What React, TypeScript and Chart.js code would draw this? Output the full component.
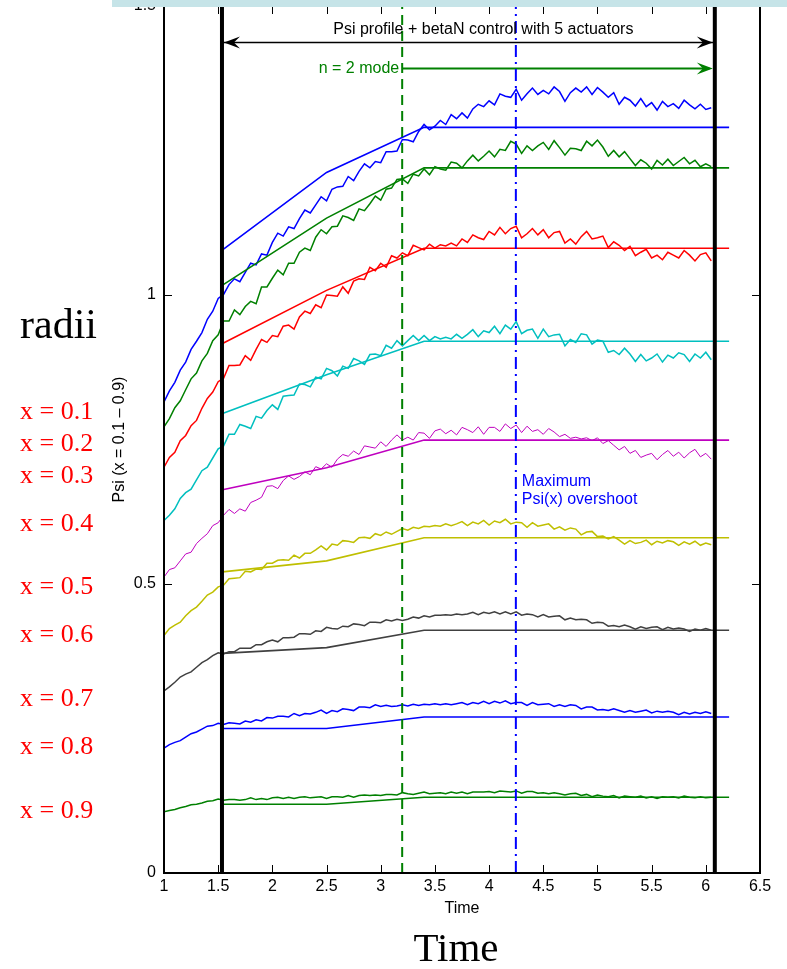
import React, { useEffect, useRef } from 'react';
import { Chart, registerables } from 'chart.js';

Chart.register(...registerables);

// ---------- data ----------
const TIME = [1.00,1.05,1.10,1.15,1.20,1.25,1.30,1.35,1.40,1.45,1.50,1.55,1.60,1.65,1.70,1.75,1.80,1.85,1.90,1.95,
  2.00,2.05,2.10,2.15,2.20,2.25,2.30,2.35,2.40,2.45,2.50,2.55,2.60,2.65,2.70,2.75,2.80,2.85,2.90,2.95,
  3.00,3.05,3.10,3.15,3.20,3.25,3.30,3.35,3.40,3.45,3.50,3.55,3.60,3.65,3.70,3.75,3.80,3.85,3.90,3.95,
  4.00,4.05,4.10,4.15,4.20,4.25,4.30,4.35,4.40,4.45,4.50,4.55,4.60,4.65,4.70,4.75,4.80,4.85,4.90,4.95,
  5.00,5.05,5.10,5.15,5.20,5.25,5.30,5.35,5.40,5.45,5.50,5.55,5.60,5.65,5.70,5.75,5.80,5.85,5.90,5.95,
  6.00,6.05];

const PSI_01 = [0.815,0.834,0.849,0.870,0.884,0.906,0.920,0.935,0.958,0.972,
  0.994,1.001,1.018,1.028,1.023,1.039,1.055,1.052,1.071,1.069,
  1.091,1.107,1.102,1.118,1.115,1.132,1.147,1.142,1.156,1.170,
  1.163,1.183,1.187,1.188,1.205,1.198,1.214,1.227,1.220,1.231,
  1.229,1.248,1.248,1.249,1.269,1.268,1.265,1.283,1.295,1.286,
  1.292,1.302,1.295,1.312,1.305,1.315,1.306,1.322,1.330,1.326,
  1.336,1.329,1.348,1.344,1.342,1.356,1.337,1.348,1.358,1.347,
  1.354,1.348,1.360,1.352,1.335,1.350,1.358,1.351,1.360,1.347,
  1.359,1.351,1.342,1.350,1.330,1.342,1.337,1.327,1.340,1.326,
  1.333,1.320,1.335,1.326,1.331,1.323,1.337,1.329,1.322,1.330,
  1.321,1.324];

const PSI_02 = [0.772,0.786,0.805,0.817,0.836,0.855,0.865,0.886,0.899,0.921,
  0.931,0.955,0.955,0.974,0.966,0.980,0.989,0.985,1.014,1.014,
  1.029,1.043,1.035,1.055,1.055,1.074,1.081,1.077,1.100,1.113,
  1.106,1.118,1.119,1.137,1.134,1.129,1.149,1.146,1.158,1.171,
  1.164,1.183,1.185,1.200,1.201,1.193,1.209,1.206,1.218,1.208,
  1.222,1.218,1.216,1.230,1.228,1.220,1.232,1.242,1.232,1.240,
  1.249,1.239,1.252,1.250,1.266,1.261,1.245,1.258,1.250,1.258,
  1.264,1.252,1.267,1.255,1.242,1.254,1.253,1.250,1.266,1.258,
  1.268,1.256,1.240,1.250,1.239,1.248,1.236,1.224,1.234,1.228,
  1.218,1.233,1.225,1.235,1.224,1.231,1.238,1.227,1.233,1.222,
  1.227,1.222];

const PSI_03 = [0.702,0.719,0.728,0.748,0.757,0.774,0.783,0.804,0.821,0.832,
  0.850,0.856,0.878,0.878,0.879,0.895,0.887,0.906,0.923,0.918,
  0.930,0.928,0.946,0.948,0.941,0.962,0.972,0.968,0.983,0.978,
  1.000,0.999,0.998,1.014,1.003,1.024,1.028,1.027,1.048,1.042,
  1.055,1.048,1.068,1.064,1.073,1.068,1.086,1.082,1.078,1.088,
  1.081,1.087,1.085,1.090,1.085,1.097,1.091,1.104,1.099,1.096,
  1.110,1.104,1.117,1.106,1.115,1.119,1.099,1.106,1.115,1.104,
  1.113,1.099,1.108,1.110,1.090,1.097,1.088,1.101,1.110,1.097,
  1.099,1.102,1.082,1.092,1.086,1.077,1.084,1.068,1.074,1.079,
  1.064,1.069,1.061,1.074,1.069,1.064,1.077,1.069,1.059,1.070,
  1.073,1.059];

const PSI_04 = [0.610,0.619,0.630,0.648,0.658,0.664,0.680,0.696,0.702,0.718,
  0.734,0.739,0.759,0.759,0.776,0.773,0.769,0.790,0.787,0.800,
  0.810,0.802,0.825,0.826,0.827,0.846,0.845,0.841,0.858,0.855,
  0.873,0.869,0.860,0.877,0.873,0.890,0.886,0.880,0.897,0.898,
  0.895,0.913,0.908,0.921,0.912,0.921,0.930,0.921,0.930,0.921,
  0.928,0.924,0.927,0.924,0.932,0.925,0.932,0.940,0.928,0.938,
  0.935,0.946,0.933,0.948,0.941,0.954,0.933,0.939,0.941,0.925,
  0.941,0.928,0.931,0.932,0.912,0.923,0.918,0.933,0.931,0.915,
  0.922,0.920,0.901,0.904,0.897,0.908,0.898,0.885,0.897,0.886,
  0.891,0.898,0.884,0.896,0.891,0.900,0.897,0.885,0.898,0.891,
  0.901,0.888];

const PSI_05 = [0.512,0.525,0.528,0.540,0.552,0.555,0.570,0.579,0.587,0.601,
  0.606,0.619,0.629,0.622,0.630,0.626,0.641,0.645,0.650,0.669,
  0.670,0.665,0.679,0.687,0.681,0.686,0.694,0.689,0.703,0.699,
  0.708,0.702,0.716,0.724,0.721,0.730,0.724,0.739,0.737,0.735,
  0.746,0.738,0.749,0.758,0.749,0.754,0.749,0.762,0.761,0.752,
  0.765,0.768,0.760,0.766,0.758,0.771,0.767,0.762,0.772,0.759,
  0.771,0.771,0.764,0.777,0.769,0.775,0.762,0.773,0.764,0.767,
  0.759,0.769,0.763,0.755,0.759,0.752,0.754,0.751,0.753,0.748,
  0.753,0.743,0.748,0.740,0.732,0.738,0.726,0.731,0.719,0.723,
  0.726,0.715,0.724,0.731,0.721,0.728,0.718,0.727,0.733,0.720,
  0.726,0.716];

const PSI_06 = [0.411,0.423,0.429,0.434,0.445,0.454,0.460,0.470,0.481,0.486,
  0.495,0.498,0.509,0.510,0.511,0.522,0.521,0.526,0.525,0.536,
  0.536,0.541,0.542,0.541,0.550,0.545,0.553,0.553,0.559,0.566,
  0.559,0.569,0.567,0.575,0.574,0.572,0.580,0.581,0.579,0.587,
  0.584,0.590,0.586,0.591,0.596,0.593,0.598,0.596,0.600,0.599,
  0.601,0.600,0.604,0.601,0.604,0.608,0.601,0.607,0.604,0.610,
  0.602,0.609,0.606,0.612,0.604,0.607,0.606,0.598,0.606,0.600,
  0.602,0.604,0.595,0.599,0.593,0.597,0.595,0.585,0.590,0.591,
  0.582,0.583,0.578,0.582,0.576,0.569,0.575,0.570,0.572,0.576,
  0.568,0.574,0.571,0.575,0.573,0.567,0.573,0.569,0.574,0.567,
  0.571,0.568];

const PSI_07 = [0.315,0.322,0.330,0.339,0.344,0.348,0.356,0.364,0.369,0.376,
  0.381,0.379,0.383,0.383,0.389,0.389,0.389,0.395,0.395,0.400,
  0.403,0.400,0.407,0.407,0.408,0.414,0.414,0.413,0.419,0.418,
  0.425,0.423,0.422,0.427,0.426,0.431,0.430,0.428,0.434,0.434,
  0.433,0.438,0.436,0.439,0.437,0.439,0.443,0.441,0.445,0.443,
  0.446,0.446,0.447,0.446,0.448,0.447,0.448,0.451,0.447,0.451,
  0.449,0.452,0.448,0.452,0.448,0.452,0.446,0.448,0.447,0.443,
  0.447,0.443,0.444,0.445,0.438,0.441,0.438,0.439,0.438,0.432,
  0.434,0.433,0.427,0.428,0.426,0.429,0.426,0.422,0.426,0.423,
  0.425,0.426,0.421,0.425,0.422,0.424,0.422,0.418,0.422,0.420,
  0.423,0.420];

const PSI_08 = [0.216,0.222,0.226,0.229,0.235,0.241,0.244,0.249,0.254,0.255,
  0.259,0.257,0.260,0.259,0.258,0.263,0.261,0.265,0.263,0.269,
  0.268,0.271,0.271,0.270,0.276,0.272,0.276,0.275,0.278,0.282,
  0.276,0.281,0.279,0.284,0.283,0.281,0.287,0.287,0.286,0.291,
  0.288,0.290,0.288,0.289,0.291,0.289,0.292,0.290,0.292,0.291,
  0.293,0.291,0.293,0.291,0.293,0.295,0.291,0.295,0.293,0.297,
  0.293,0.297,0.294,0.298,0.293,0.295,0.295,0.290,0.295,0.291,
  0.292,0.293,0.288,0.291,0.288,0.291,0.290,0.284,0.287,0.287,
  0.282,0.283,0.281,0.284,0.281,0.278,0.281,0.278,0.280,0.282,
  0.277,0.280,0.278,0.280,0.278,0.274,0.278,0.275,0.278,0.276,
  0.279,0.276];

const PSI_09 = [0.106,0.108,0.110,0.113,0.115,0.118,0.119,0.121,0.124,0.125,
  0.128,0.126,0.127,0.127,0.126,0.127,0.130,0.127,0.129,0.127,
  0.130,0.131,0.129,0.131,0.129,0.131,0.132,0.130,0.131,0.132,
  0.129,0.132,0.132,0.131,0.134,0.131,0.134,0.135,0.134,0.135,
  0.134,0.136,0.136,0.135,0.139,0.137,0.136,0.138,0.140,0.137,
  0.138,0.139,0.137,0.140,0.138,0.140,0.137,0.140,0.140,0.140,
  0.141,0.139,0.142,0.141,0.140,0.142,0.138,0.141,0.141,0.138,
  0.139,0.137,0.139,0.137,0.135,0.137,0.138,0.134,0.136,0.132,
  0.135,0.133,0.132,0.134,0.130,0.133,0.132,0.131,0.133,0.130,
  0.132,0.129,0.132,0.131,0.132,0.130,0.133,0.131,0.130,0.132,
  0.130,0.131];

// target (reference) profiles
const REF_TIME = [1.54, 2.5, 3.4, 6.215];
const REF_01 = [1.078, 1.212, 1.290, 1.290];
const REF_02 = [1.017, 1.133, 1.220, 1.220];
const REF_03 = [0.916, 1.008, 1.081, 1.081];
const REF_04 = [0.795, 0.862, 0.920, 0.920];
const REF_05 = [0.663, 0.701, 0.749, 0.749];
const REF_06 = [0.521, 0.540, 0.580, 0.580];
const REF_07 = [0.380, 0.390, 0.420, 0.420];
const REF_08 = [0.250, 0.250, 0.270, 0.270];
const REF_09 = [0.119, 0.119, 0.131, 0.131];

const MEASURED = [PSI_01, PSI_02, PSI_03, PSI_04, PSI_05, PSI_06, PSI_07, PSI_08, PSI_09];
const TARGETS = [REF_01, REF_02, REF_03, REF_04, REF_05, REF_06, REF_07, REF_08, REF_09];
const RADII_LABELS = ['x = 0.1', 'x = 0.2', 'x = 0.3', 'x = 0.4', 'x = 0.5', 'x = 0.6', 'x = 0.7', 'x = 0.8', 'x = 0.9'];

// event markers (time) and annotation levels (Psi)
const CONTROL_START = 1.535;
const CONTROL_END = 6.083;
const MODE_ONSET = 3.198;
const MAX_OVERSHOOT = 4.247;
const CONTROL_ARROW_Y = 1.437;
const MODE_ARROW_Y = 1.392;

// ---------- styles ----------
const COLORS = ['#0000ff', '#008000', '#ff0000', '#00bfbf', '#bf00bf', '#bfbf00', '#404040', '#0000ff', '#008000'];
const SANS = '"Liberation Sans", Arial, Helvetica, sans-serif';
const SERIF = '"Liberation Serif", "Times New Roman", serif';
const LABEL_TOPS = [398, 430, 462, 510, 573, 621, 685, 733, 797];
const TICK_LEN = 8;

function arrowHead(ctx: CanvasRenderingContext2D, tipX: number, tipY: number, dir: number, color: string) {
  const len = 16, half = 6;
  ctx.fillStyle = color;
  ctx.beginPath();
  ctx.moveTo(tipX, tipY);
  ctx.lineTo(tipX - dir * len, tipY - half);
  ctx.lineTo(tipX - dir * len * 0.62, tipY);
  ctx.lineTo(tipX - dir * len, tipY + half);
  ctx.closePath();
  ctx.fill();
}

const overlayPlugin = {
  id: 'overlay',
  afterDatasetsDraw(chart: any) {
    const { ctx, chartArea: a, scales } = chart;
    const xs = scales.x, ys = scales.y;
    ctx.save();
    // inward ticks on all four sides
    ctx.strokeStyle = '#000';
    ctx.lineWidth = 1;
    ctx.beginPath();
    for (const t of xs.ticks) {
      const px = Math.round(xs.getPixelForValue(t.value)) + 0.5;
      ctx.moveTo(px, a.bottom); ctx.lineTo(px, a.bottom - TICK_LEN);
      ctx.moveTo(px, a.top); ctx.lineTo(px, a.top + TICK_LEN);
    }
    for (const t of ys.ticks) {
      const py = Math.round(ys.getPixelForValue(t.value)) + 0.5;
      ctx.moveTo(a.left, py); ctx.lineTo(a.left + TICK_LEN, py);
      ctx.moveTo(a.right, py); ctx.lineTo(a.right - TICK_LEN, py);
    }
    ctx.stroke();
    // axes box
    ctx.lineWidth = 2;
    ctx.strokeRect(a.left, a.top, a.right - a.left, a.bottom - a.top);

    // arrow heads
    const xStart = xs.getPixelForValue(CONTROL_START);
    const xEnd = xs.getPixelForValue(CONTROL_END);
    const xMode = xs.getPixelForValue(MODE_ONSET);
    const yCtl = ys.getPixelForValue(CONTROL_ARROW_Y);
    const yMode = ys.getPixelForValue(MODE_ARROW_Y);
    arrowHead(ctx, xStart + 2, yCtl, -1, '#000');
    arrowHead(ctx, xEnd - 2, yCtl, 1, '#000');
    arrowHead(ctx, xEnd - 2, yMode, 1, '#008000');

    // annotation text
    ctx.font = `16px ${SANS}`;
    ctx.textBaseline = 'middle';
    ctx.fillStyle = '#000';
    ctx.textAlign = 'center';
    ctx.fillText('Psi profile + betaN control with 5 actuators', xs.getPixelForValue(3.947), ys.getPixelForValue(1.460));
    ctx.fillStyle = '#008000';
    ctx.textAlign = 'right';
    ctx.fillText('n = 2 mode', xMode - 3, yMode);
    ctx.fillStyle = '#0000ff';
    ctx.textAlign = 'left';
    const xMax = xs.getPixelForValue(MAX_OVERSHOOT) + 6;
    ctx.fillText('Maximum', xMax, ys.getPixelForValue(0.678));
    ctx.fillText('Psi(x) overshoot', xMax, ys.getPixelForValue(0.646));
    ctx.restore();
  },
};

function vline(x: number, color: string, width: number, dash: number[] = []) {
  return {
    data: [{ x, y: 0 }, { x, y: 1.5 }],
    borderColor: color, borderWidth: width, borderDash: dash,
    pointRadius: 0, order: 0,
  };
}

const plainNumber = (v: any) => `${+Number(v).toFixed(3)}`;

export default function App() {
  const ref = useRef<HTMLCanvasElement | null>(null);

  useEffect(() => {
    if (!ref.current) return;
    const measured = MEASURED.map((vals, k) => ({
      data: TIME.map((t, i) => ({ x: t, y: vals[i] })),
      borderColor: COLORS[k], borderWidth: k === 4 ? 1 : 1.5,
      pointRadius: 0, order: 2,
    }));
    const targets = TARGETS.map((vals, k) => ({
      data: REF_TIME.map((t, i) => ({ x: t, y: vals[i] })),
      borderColor: COLORS[k], borderWidth: 1.6,
      pointRadius: 0, order: 1,
    }));
    const markers = [
      vline(CONTROL_START, '#000', 4),
      vline(CONTROL_END, '#000', 4),
      vline(MODE_ONSET, '#008000', 2, [10, 6]),
      vline(MAX_OVERSHOOT, '#0000ff', 2, [12, 5, 2, 5]),
      { data: [{ x: CONTROL_START, y: CONTROL_ARROW_Y }, { x: CONTROL_END, y: CONTROL_ARROW_Y }],
        borderColor: '#000', borderWidth: 1.5, pointRadius: 0, order: 0 },
      { data: [{ x: MODE_ONSET, y: MODE_ARROW_Y }, { x: CONTROL_END - 0.05, y: MODE_ARROW_Y }],
        borderColor: '#008000', borderWidth: 2, pointRadius: 0, order: 0 },
    ];

    const chart = new Chart(ref.current, {
      type: 'line',
      data: { datasets: [...markers, ...targets, ...measured] as any },
      plugins: [overlayPlugin as any],
      options: {
        animation: false,
        responsive: false,
        devicePixelRatio: 1,
        events: [],
        layout: { padding: { left: 0, right: 27, top: 6, bottom: 0 } },
        plugins: { legend: { display: false }, tooltip: { enabled: false } },
        elements: { line: { tension: 0 } },
        scales: {
          x: {
            type: 'linear', min: 1, max: 6.5,
            ticks: { stepSize: 0.5, color: '#000', font: { family: SANS, size: 16 }, padding: 4, maxRotation: 0, autoSkip: false, callback: plainNumber },
            grid: { display: false, drawTicks: false, tickLength: 0 },
            border: { display: false },
            title: { display: true, text: 'Time', color: '#000', font: { family: SANS, size: 16 }, padding: { top: 0, bottom: 51 } },
            afterFit: (s: any) => { s.height = 96; s.paddingLeft = 0; s.paddingRight = 0; },
          },
          y: {
            type: 'linear', min: 0, max: 1.5,
            ticks: { stepSize: 0.5, color: '#000', font: { family: SANS, size: 16 }, padding: 8, callback: plainNumber },
            grid: { display: false, drawTicks: false, tickLength: 0 },
            border: { display: false },
            title: { display: true, text: 'Psi (x = 0.1 \u2013 0.9)', color: '#000', font: { family: SANS, size: 16 }, padding: { top: 110, bottom: 0 } },
            afterFit: (s: any) => { s.width = 164; s.paddingTop = 0; s.paddingBottom = 0; },
          },
        },
      } as any,
    });
    return () => chart.destroy();
  }, []);

  return (
    <div style={{ position: 'absolute', left: 0, top: 0, width: 787, height: 969, background: '#fff', overflow: 'hidden' }}>
      <canvas ref={ref} width={787} height={969} style={{ position: 'absolute', left: 0, top: 0, width: 787, height: 969 }} />
      <div style={{ position: 'absolute', left: 112, top: 0, width: 675, height: 7, background: '#c6e4e8' }} />
      <div style={{ position: 'absolute', left: 20, top: 303, font: `42px/1 ${SERIF}`, color: '#000', whiteSpace: 'nowrap' }}>radii</div>
      {RADII_LABELS.map((s, i) => (
        <div key={s} style={{ position: 'absolute', left: 20, top: LABEL_TOPS[i], font: `26px/1 ${SERIF}`, color: '#ff0000', whiteSpace: 'nowrap' }}>{s}</div>
      ))}
      <div style={{ position: 'absolute', left: 456, top: 927, transform: 'translateX(-50%)', font: `41px/1 ${SERIF}`, color: '#000', whiteSpace: 'nowrap' }}>Time</div>
    </div>
  );
}
